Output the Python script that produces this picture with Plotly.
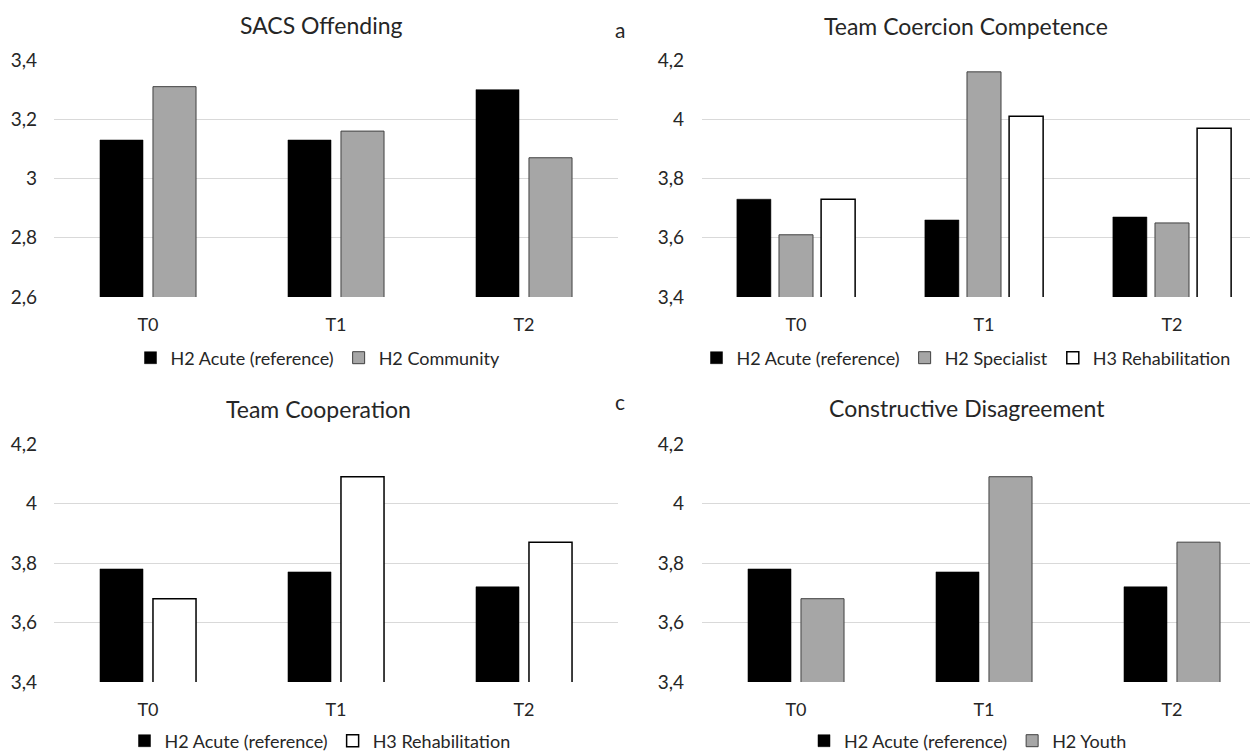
import plotly.graph_objects as go

# ---------------- data ----------------
categories = ["T0", "T1", "T2"]

a_title = "SACS Offending"
a_acute = [3.13, 3.13, 3.30]
a_community = [3.31, 3.16, 3.07]

b_title = "Team Coercion Competence"
b_acute = [3.73, 3.66, 3.67]
b_specialist = [3.61, 4.16, 3.65]
b_rehab = [3.73, 4.01, 3.97]

c_title = "Team Cooperation"
c_acute = [3.78, 3.77, 3.72]
c_rehab = [3.68, 4.09, 3.87]

d_title = "Constructive Disagreement"
d_acute = [3.78, 3.77, 3.72]
d_youth = [3.68, 4.09, 3.87]

a_tickvals = [2.6, 2.8, 3.0, 3.2, 3.4]
a_ticktext = ["2,6", "2,8", "3", "3,2", "3,4"]
bcd_tickvals = [3.4, 3.6, 3.8, 4.0, 4.2]
bcd_ticktext = ["3,4", "3,6", "3,8", "4", "4,2"]

# ---------------- styling ----------------
VW, VH = 1258, 751          # browser viewport
PAD = 8                     # default page body margin
W, H = VW - PAD, VH - PAD   # figure size so that it ends at the viewport edge
FONT = "Lato"
TXT = "#262626"
GRID = "#d9d9d9"
BLACK = dict(color="#000000", line=dict(color="#000000", width=0.5))
GREY = dict(color="#a6a6a6", line=dict(color="#404040", width=1))
WHITE = dict(color="#ffffff", line=dict(color="#000000", width=1.5))


def px_x(p):
    return (p - PAD) / W


def px_y(p):
    return 1 - (p - PAD) / H


fig = go.Figure()

# two-bar layout (a, c, d)
w2, g2 = 0.229, 0.053
off2 = [-(w2 + g2 / 2), g2 / 2]
# three-bar layout (b)
w3, g3 = 0.181, 0.043
off3 = [-(1.5 * w3 + g3), -0.5 * w3, 0.5 * w3 + g3]


def add(vals, name, style, off, w, ax, leg):
    fig.add_trace(go.Bar(
        x=categories, y=vals, name=name, marker=style,
        offset=off, width=w, xaxis="x" + ax, yaxis="y" + ax,
        legend=leg, hoverinfo="skip"))


add(a_acute, "H2 Acute (reference)", BLACK, off2[0], w2, "", "legend")
add(a_community, "H2 Community", GREY, off2[1], w2, "", "legend")

add(b_acute, "H2 Acute (reference)", BLACK, off3[0], w3, "2", "legend2")
add(b_specialist, "H2 Specialist", GREY, off3[1], w3, "2", "legend2")
add(b_rehab, "H3 Rehabilitation", WHITE, off3[2], w3, "2", "legend2")

add(c_acute, "H2 Acute (reference)", BLACK, off2[0], w2, "3", "legend3")
add(c_rehab, "H3 Rehabilitation", WHITE, off2[1], w2, "3", "legend3")

add(d_acute, "H2 Acute (reference)", BLACK, off2[0], w2, "4", "legend4")
add(d_youth, "H2 Youth", GREY, off2[1], w2, "4", "legend4")

left_dom = [px_x(54), px_x(618)]
right_dom = [px_x(702), 1.0]
top_dom = [px_y(297), px_y(60)]
bot_dom = [px_y(682), px_y(444)]
right_range = [-0.5, 2.5 - (702 + 564 - VW) / 188.0]


def xax(domain, anchor, rng):
    return dict(domain=domain, anchor=anchor, type="category", range=rng,
                showgrid=False, zeroline=False, showline=False,
                ticks="", ticklabelstandoff=15, automargin=False,
                tickfont=dict(family=FONT, size=18, color=TXT),
                fixedrange=True)


def yax(domain, anchor, rng, tv, tt, standoff):
    return dict(domain=domain, anchor=anchor, range=rng,
                tickvals=tv, ticktext=tt, showgrid=True, gridcolor=GRID,
                gridwidth=1, zeroline=False, showline=False, ticks="",
                ticklabelstandoff=standoff, automargin=False,
                tickfont=dict(family=FONT, size=19, color=TXT),
                fixedrange=True)


fig.update_layout(
    width=W, height=H,
    margin=dict(l=0, r=0, t=0, b=0, autoexpand=False),
    paper_bgcolor="white", plot_bgcolor="white",
    barmode="overlay",
    font=dict(family=FONT, color=TXT),
    xaxis=xax(left_dom, "y", [-0.5, 2.5]),
    yaxis=yax(top_dom, "x", [2.6, 3.4], a_tickvals, a_ticktext, 16),
    xaxis2=xax(right_dom, "y2", right_range),
    yaxis2=yax(top_dom, "x2", [3.4, 4.2], bcd_tickvals, bcd_ticktext, 17),
    xaxis3=xax(left_dom, "y3", [-0.5, 2.5]),
    yaxis3=yax(bot_dom, "x3", [3.4, 4.2], bcd_tickvals, bcd_ticktext, 16),
    xaxis4=xax(right_dom, "y4", right_range),
    yaxis4=yax(bot_dom, "x4", [3.4, 4.2], bcd_tickvals, bcd_ticktext, 17),
)

leg_common = dict(orientation="h", xanchor="center", yanchor="middle",
                  font=dict(family=FONT, size=18, color=TXT),
                  bgcolor="rgba(0,0,0,0)", itemclick=False,
                  itemdoubleclick=False, itemwidth=30, tracegroupgap=0)
fig.update_layout(
    legend=dict(x=px_x(318), y=px_y(358), **leg_common),
    legend2=dict(x=px_x(966), y=px_y(358), **leg_common),
    legend3=dict(x=px_x(320), y=px_y(741), **leg_common),
    legend4=dict(x=px_x(968), y=px_y(741), **leg_common),
)

titles = [(a_title, 321, 25), (b_title, 966, 26), (c_title, 318, 409), (d_title, 967, 408)]
for t, x, y in titles:
    fig.add_annotation(text=t, x=px_x(x), y=px_y(y), xref="paper", yref="paper",
                       xanchor="center", yanchor="middle", showarrow=False,
                       font=dict(family=FONT, size=23, color=TXT))

letters = [("a", 613, 29), ("b", 1250, 28), ("c", 613, 401), ("d", 1250, 401)]
for t, x, y in letters:
    fig.add_annotation(text=t, x=px_x(x), y=px_y(y), xref="paper", yref="paper",
                       xanchor="left", yanchor="middle", showarrow=False,
                       font=dict(family=FONT, size=21, color=TXT))

fig.write_html("out.html", config={"displayModeBar": False})
